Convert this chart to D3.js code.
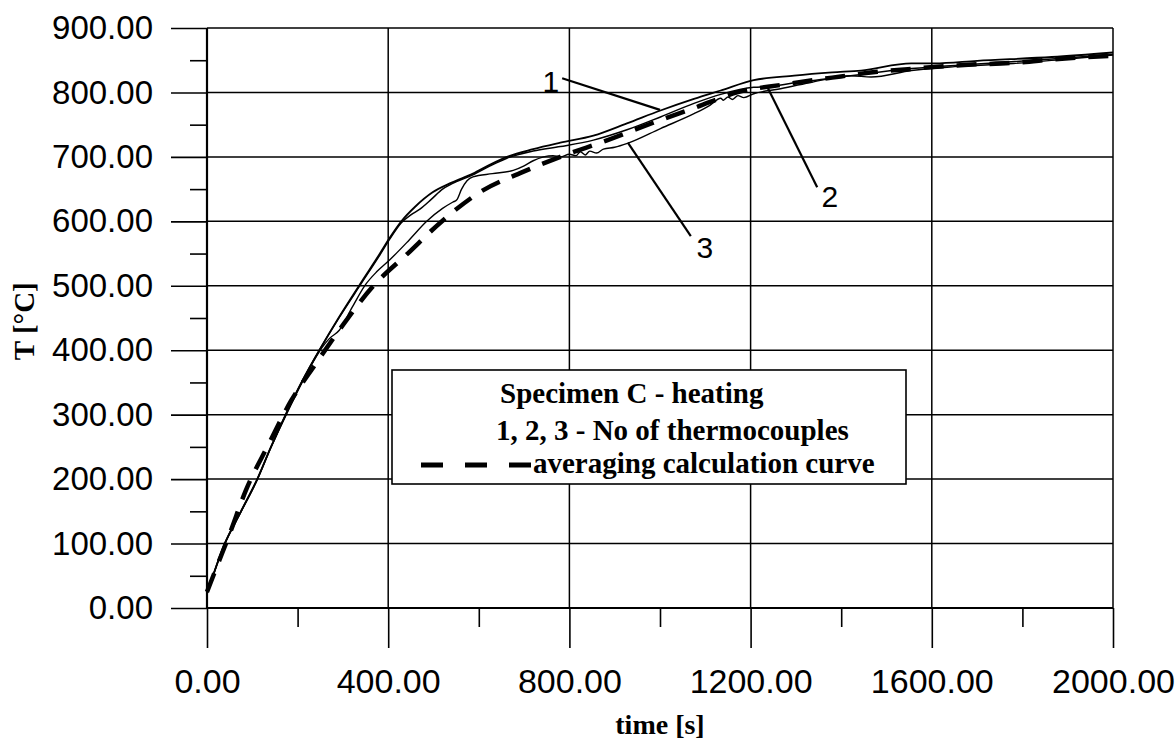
<!DOCTYPE html>
<html><head><meta charset="utf-8">
<script src="https://cdn.jsdelivr.net/npm/d3@7"></script>
<style>body{margin:0;background:#fff}svg{display:block}</style>
</head><body>
<svg id="c" width="1176" height="739"></svg>
<script>
// ---- data (time [s], T [°C]) ----
const xMajorTicks = [0, 400, 800, 1200, 1600, 2000];
const xMinorTicks = [200, 600, 1000, 1400, 1800];
const yMajorTicks = [0, 100, 200, 300, 400, 500, 600, 700, 800, 900];
const yMinorTicks = [50, 150, 250, 350, 450, 550, 650, 750, 850];

const curve1Time = [0, 38, 75, 111, 140, 175, 210, 248, 292, 341, 380, 403, 429, 460, 498, 540, 587, 625, 662, 720, 780, 853, 927, 1001, 1075, 1134, 1207, 1296, 1380, 1444, 1555, 1606, 1700, 1865, 2000];
const curve1Temp = [22, 98, 150, 200, 248, 302, 352, 400, 452, 506, 548, 574, 600, 623, 645, 660, 674, 688, 700, 712, 722, 733, 752, 772, 790, 803, 819, 826, 831, 834, 845, 845, 849, 855, 862];

const curve2Time = [0, 38, 75, 111, 140, 175, 210, 248, 292, 341, 380, 403, 429, 450, 470, 495, 520, 540, 587, 625, 662, 720, 780, 853, 927, 1001, 1075, 1134, 1207, 1240, 1296, 1380, 1444, 1555, 1700, 1865, 2000];
const curve2Temp = [22, 98, 150, 200, 248, 302, 352, 400, 451, 504, 546, 572, 598, 610, 619, 634, 650, 658, 672, 686, 698, 709, 716, 726, 742, 762, 783, 797, 808, 809, 815, 822, 828, 837, 844, 852, 859];

const curve3Time = [0, 38, 75, 111, 140, 175, 210, 248, 270, 292, 320, 348, 375, 403, 445, 485, 520, 543, 551, 562, 574, 587, 630, 676, 700, 720, 764, 780, 800, 815, 824, 835, 845, 860, 875, 900, 928, 1001, 1075, 1110, 1134, 1140, 1150, 1160, 1172, 1185, 1207, 1260, 1330, 1422, 1466, 1555, 1650, 1780, 1900, 2000];
const curve3Temp = [22, 97, 149, 199, 247, 300, 350, 398, 418, 431, 466, 500, 522, 540, 570, 600, 620, 630, 633, 650, 663, 669, 674, 679, 686, 694, 702, 700, 704, 702, 708, 703, 709, 706, 712, 715, 721, 744, 767, 780, 791, 788, 793, 789, 795, 792, 798, 805, 815, 826, 824, 834, 840, 845, 852, 858];

const avgTime = [0, 25, 50, 86, 133, 186, 241, 303, 365, 443, 520, 602, 695, 780, 880, 985, 1080, 1170, 1270, 1380, 1480, 1562, 1680, 1783, 1880, 2000];
const avgTemp = [25, 70, 115, 183, 250, 322, 380, 442, 498, 550, 601, 645, 676, 700, 725, 753, 777, 800, 812, 823, 832, 837, 843, 846, 852, 857];

// annotation labels (data coordinates)
const annoLabels = ["1", "2", "3"];
const annoLabelPos = [[759, 801], [1375, 622], [1099, 543]];
const annoLeaders = [[[784, 822], [1000, 773]], [[1347, 653], [1238, 807]], [[1068, 577], [929, 722]]];

const legendLines = ["Specimen C - heating", "1, 2, 3 - No of thermocouples", "averaging calculation curve"];

// ---- drawing ----
const svg = d3.select("#c");
const x = d3.scaleLinear().domain([0, 2000]).range([207, 1113]);
const y = d3.scaleLinear().domain([0, 900]).range([608, 28]);

// gridlines
svg.append("g").selectAll("line").data(yMajorTicks).join("line")
  .attr("x1", x(0)).attr("x2", x(2000)).attr("y1", d => y(d)).attr("y2", d => y(d))
  .attr("stroke", "#000").attr("stroke-width", d => d === 0 ? 2.2 : 1.5);
svg.append("g").selectAll("line").data(xMajorTicks).join("line")
  .attr("y1", y(0)).attr("y2", y(900)).attr("x1", d => x(d)).attr("x2", d => x(d))
  .attr("stroke", "#000").attr("stroke-width", d => d === 0 ? 2.2 : 1.5);

const fmt = d3.format(".2f");
// y axis
const yMaj = svg.append("g").attr("transform", `translate(${x(0)},0)`)
  .call(d3.axisLeft(y).tickValues(yMajorTicks).tickSize(36).tickPadding(18).tickFormat(fmt));
const yMin = svg.append("g").attr("transform", `translate(${x(0)},0)`)
  .call(d3.axisLeft(y).tickValues(yMinorTicks).tickSize(17).tickFormat(""));
// x axis
const xMaj = svg.append("g").attr("transform", `translate(0,${y(0)})`)
  .call(d3.axisBottom(x).tickValues(xMajorTicks).tickSize(40).tickPadding(21).tickFormat(fmt));
const xMin = svg.append("g").attr("transform", `translate(0,${y(0)})`)
  .call(d3.axisBottom(x).tickValues(xMinorTicks).tickSize(19).tickFormat(""));
[yMaj, yMin, xMaj, xMin].forEach(g => {
  g.select(".domain").remove();
  g.selectAll(".tick line").attr("stroke", "#000").attr("stroke-width", 1.6);
  g.selectAll("text").attr("fill", "#000")
    .style("font-family", "'Liberation Sans', Arial, sans-serif").style("font-size", "33px");
});
xMaj.selectAll("text").style("font-size", "34px");

// axis titles
svg.append("text").attr("transform", `translate(34,${y(445)}) rotate(-90)`)
  .attr("text-anchor", "middle")
  .style("font-family", "'Liberation Serif', 'Times New Roman', serif").style("font-weight", "bold")
  .style("font-size", "29px").text("T [°C]");
svg.append("text").attr("x", x(1000)).attr("y", 734).attr("text-anchor", "middle")
  .style("font-family", "'Liberation Serif', 'Times New Roman', serif").style("font-weight", "bold")
  .style("font-size", "28px").text("time [s]");

// curves
const line = d3.line().x(d => x(d[0])).y(d => y(d[1])).curve(d3.curveMonotoneX);
const zip = (a, b) => a.map((v, i) => [v, b[i]]);
svg.append("path").datum(zip(curve3Time, curve3Temp)).attr("d", line)
  .attr("fill", "none").attr("stroke", "#000").attr("stroke-width", 1.4);
svg.append("path").datum(zip(curve2Time, curve2Temp)).attr("d", line)
  .attr("fill", "none").attr("stroke", "#000").attr("stroke-width", 1.5);
svg.append("path").datum(zip(curve1Time, curve1Temp)).attr("d", line)
  .attr("fill", "none").attr("stroke", "#000").attr("stroke-width", 1.8);
svg.append("path").datum(zip(avgTime, avgTemp)).attr("d", line)
  .attr("fill", "none").attr("stroke", "#000").attr("stroke-width", 4.5)
  .attr("stroke-dasharray", "20 13");

// annotations
annoLeaders.forEach(([a, b]) => {
  svg.append("line").attr("x1", x(a[0])).attr("y1", y(a[1])).attr("x2", x(b[0])).attr("y2", y(b[1]))
    .attr("stroke", "#000").attr("stroke-width", 2.2);
});
annoLabels.forEach((l, i) => {
  svg.append("text").attr("x", x(annoLabelPos[i][0])).attr("y", y(annoLabelPos[i][1]))
    .attr("text-anchor", "middle")
    .style("font-family", "'Liberation Sans', Arial, sans-serif").style("font-size", "30px").text(l);
});

// legend box
const lg = svg.append("g");
lg.append("rect").attr("x", 392).attr("y", 370).attr("width", 514).attr("height", 114)
  .attr("fill", "#fff").attr("stroke", "#000").attr("stroke-width", 1.6);
const lf = t => t.style("font-family", "'Liberation Serif', 'Times New Roman', serif")
  .style("font-weight", "bold").style("font-size", "29px");
lg.append("text").attr("x", 500).attr("y", 403).text(legendLines[0]).call(lf);
lg.append("text").attr("x", 496).attr("y", 440).text(legendLines[1]).call(lf);
lg.append("text").attr("x", 533).attr("y", 473).text(legendLines[2]).call(lf);
lg.append("line").attr("x1", 421).attr("x2", 532).attr("y1", 465).attr("y2", 465)
  .attr("stroke", "#000").attr("stroke-width", 5).attr("stroke-dasharray", "22 22");
</script>
</body></html>
